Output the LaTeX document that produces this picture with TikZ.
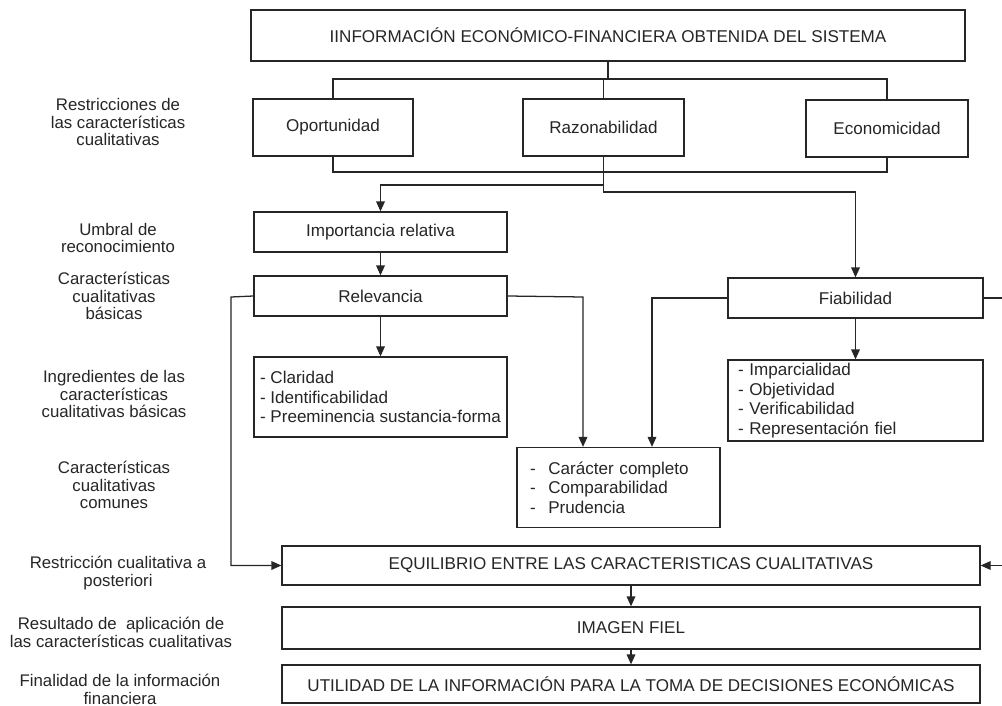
\documentclass[tikz,border=0pt]{standalone}
\usepackage{fontspec}
\setmainfont{Liberation Sans}
\usetikzlibrary{arrows.meta}
\definecolor{ink}{HTML}{262626}
\begin{document}
\begin{tikzpicture}[x=0.75pt,y=-0.75pt,
  every node/.style={text=ink},
  box/.style={draw=ink,line width=0.95pt,rectangle,inner sep=0pt,
    font=\fontsize{12.8}{14.6}\selectfont,align=center},
  lst/.style={box,align=left},
  lbl/.style={align=center,font=\fontsize{12.6}{13.4}\selectfont,inner sep=0pt},
  ln/.style={draw=ink,line width=0.95pt},
  arr/.style={ln,-{Triangle[length=7.5pt,width=6.5pt]}}]
\useasboundingbox (0,0) rectangle (1002,706);
\fill[white] (0,0) rectangle (1002,706);

% boxes
\node[box,minimum width=535.5pt,minimum height=38.25pt] (title) at (608,35.5)
  {IINFORMACIÓN ECONÓMICO-FINANCIERA OBTENIDA DEL SISTEMA};
\node[box,minimum width=120pt,minimum height=42.75pt] (opp) at (333,127.5) {Oportunidad};
\node[box,minimum width=120.75pt,minimum height=42.75pt] (raz) at (603.5,127.5) {Razonabilidad};
\node[box,minimum width=121.5pt,minimum height=42.75pt] (eco) at (887,128.5) {Economicidad};
\node[box,minimum width=189.75pt,minimum height=30pt] (imp) at (380.5,232) {Importancia relativa};
\node[box,minimum width=189.75pt,minimum height=30pt] (rel) at (380.5,296) {Relevancia};
\node[lst,minimum width=189.75pt,minimum height=60pt] (clar) at (380.5,397)
  {- Claridad\\- Identificabilidad\\- Preeminencia sustancia-forma};
\node[box,minimum width=191.25pt,minimum height=30pt] (fia) at (855.5,298) {Fiabilidad};
\node[lst,text width=176.25pt,inner xsep=7.5pt,minimum height=60.75pt] (impar) at (855.5,400.5)
  {- Imparcialidad\\- Objetividad\\- Verificabilidad\\- Representación fiel};
\node[lst,text width=132.75pt,inner xsep=9.75pt,minimum height=60pt] (com) at (618.5,487.5)
  {-\hspace{9.5pt}Carácter completo\\-\hspace{9.5pt}Comparabilidad\\-\hspace{9.5pt}Prudencia};
\node[box,minimum width=523.5pt,minimum height=29.25pt] (equi) at (631,565.5)
  {EQUILIBRIO ENTRE LAS CARACTERISTICAS CUALITATIVAS};
\node[box,minimum width=523.5pt,minimum height=31.5pt] (imagen) at (631,628) {IMAGEN FIEL};
\node[box,minimum width=523.5pt,minimum height=28.5pt] (util) at (631,684)
  {UTILIDAD DE LA INFORMACIÓN PARA LA TOMA DE DECISIONES ECONÓMICAS};

% left labels
\node[lbl] (l1) at (118,122) {Restricciones de\\las características\\cualitativas};
\node[lbl] (l2) at (118,238) {Umbral de\\reconocimiento};
\node[lbl] (l3) at (114,296) {Características\\cualitativas\\básicas};
\node[lbl] (l4) at (114,394) {Ingredientes de las\\características\\cualitativas básicas};
\node[lbl] (l5) at (114,485) {Características\\cualitativas\\comunes};
\node[lbl] (l6) at (118,573) {Restricción cualitativa a\\posteriori};
\node[lbl] (l7) at (121,632) {Resultado de\ \ aplicación de\\las características cualitativas};
\node[lbl] (l8) at (120,689) {Finalidad de la información\\financiera};

% helper coordinates
\coordinate (busU) at (0,79);
\coordinate (busL) at (0,172);
\coordinate (brL) at (0,185);
\coordinate (brR) at (0,192);
\coordinate (rc) at (583,297);
\coordinate (lc) at (231,297);
\coordinate (fc) at (652,298);
\coordinate (edgeA) at (1002,298);
\coordinate (edgeB) at (1002,565.5);

% connectors
\draw[ln] (title.south) -- (title.south |- busU);
\draw[ln] (opp.north) -- (opp.north |- busU) -- (eco.north |- busU) -- (eco.north);
\draw[ln] (raz.north) -- (raz.north |- busU);
\draw[ln] (opp.south) -- (opp.south |- busL) -- (eco.south |- busL) -- (eco.south);
\draw[arr] (raz.south) -- (raz.south |- brR) -| (fia.north);
\draw[arr] (raz.south |- brL) -| (imp.north);
\draw[arr] (imp.south) -- (rel.north);
\draw[arr] (rel.south) -- (clar.north);
\draw[arr] (rel.west) -- (lc) |- (equi.west);
\draw[arr] (rel.east) -- (rc) -- (rc |- com.north);
\draw[arr] (fia.west) -- (fc) -- (fc |- com.north);
\draw[arr] (fia.south) -- (impar.north);
\draw[ln] (fia.east) -- (edgeA);
\draw[arr] (edgeB) -- (equi.east);
\draw[arr] (equi.south) -- (imagen.north);
\draw[arr] (imagen.south) -- (util.north);
\end{tikzpicture}
\end{document}
